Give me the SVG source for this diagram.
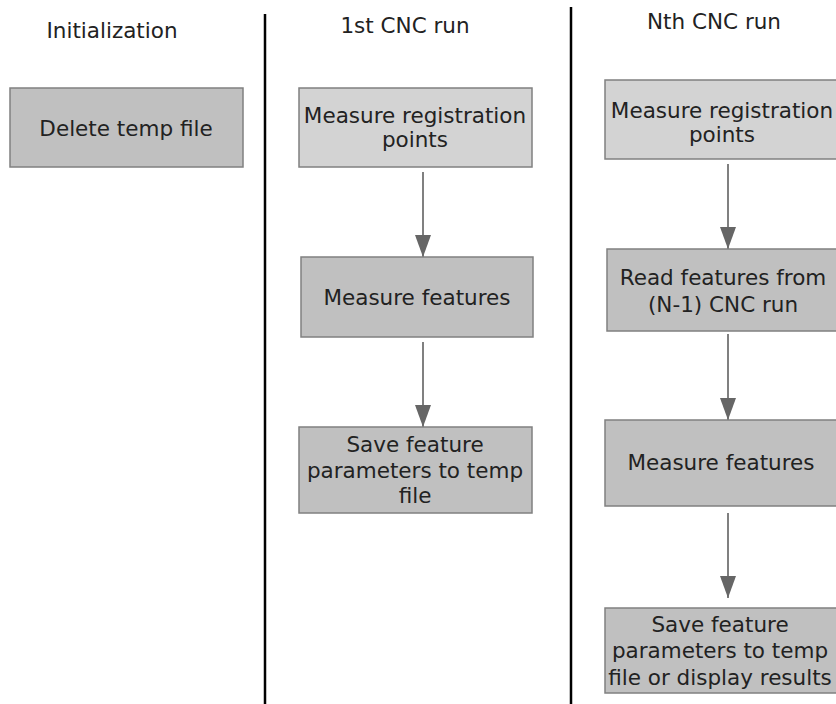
<svg xmlns="http://www.w3.org/2000/svg" width="836" height="704" viewBox="0 0 836 704">
<defs>
<style>
text{font-family:"DejaVu Sans","Verdana",sans-serif;font-size:21.5px;fill:#222222;text-anchor:middle}
.box{fill:#c0c0c0;stroke:#808080;stroke-width:1.5}
.light{fill:#d3d3d3}
.div{stroke:#000;stroke-width:2.5}
.conn{stroke:#808080;stroke-width:2;fill:none}
</style>
<marker id="ah" markerUnits="userSpaceOnUse" markerWidth="22" markerHeight="16" refX="22" refY="8" orient="auto">
<path d="M0,0 L22,8 L0,16 Z" fill="#666666"/>
</marker>
</defs>
<rect width="836" height="704" fill="#ffffff"/>
<g id="dividers">
<line class="div" x1="265" y1="14" x2="265" y2="704"/>
<line class="div" x1="571" y1="7" x2="571" y2="704"/>
</g>
<g id="headings">
<text x="112" y="38">Initialization</text>
<text x="405" y="33">1st CNC run</text>
<text x="714" y="29">Nth CNC run</text>
</g>
<g id="connectors">
<line class="conn" x1="423" y1="172" x2="423" y2="257" marker-end="url(#ah)"/>
<line class="conn" x1="423" y1="342" x2="423" y2="427" marker-end="url(#ah)"/>
<line class="conn" x1="728" y1="164" x2="728" y2="249" marker-end="url(#ah)"/>
<line class="conn" x1="728" y1="334" x2="728" y2="420" marker-end="url(#ah)"/>
<line class="conn" x1="728" y1="513" x2="728" y2="598" marker-end="url(#ah)"/>
</g>
<g id="delete-temp">
<rect class="box" x="10" y="88" width="233" height="79"/>
<text x="126" y="136">Delete temp file</text>
</g>
<g id="c1-measure-reg">
<rect class="box light" x="299" y="88" width="233" height="79"/>
<text x="415" y="123">Measure registration</text>
<text x="415" y="147">points</text>
</g>
<g id="c1-measure-feat">
<rect class="box" x="301" y="257" width="232" height="80"/>
<text x="417" y="305">Measure features</text>
</g>
<g id="c1-save">
<rect class="box" x="299" y="427" width="233" height="86"/>
<text x="415" y="452">Save feature</text>
<text x="415" y="478">parameters to temp</text>
<text x="415" y="503">file</text>
</g>
<g id="cn-measure-reg">
<rect class="box light" x="605" y="80" width="236" height="79"/>
<text x="722" y="118">Measure registration</text>
<text x="722" y="142">points</text>
</g>
<g id="cn-read">
<rect class="box" x="607" y="249" width="234" height="82"/>
<text x="723" y="285">Read features from</text>
<text x="723" y="312">(N-1) CNC run</text>
</g>
<g id="cn-measure-feat">
<rect class="box" x="605" y="420" width="236" height="86"/>
<text x="721" y="470">Measure features</text>
</g>
<g id="cn-save">
<rect class="box" x="605" y="608" width="236" height="85"/>
<text x="720" y="632">Save feature</text>
<text x="720" y="658">parameters to temp</text>
<text x="720" y="685">file or display results</text>
</g>
</svg>
